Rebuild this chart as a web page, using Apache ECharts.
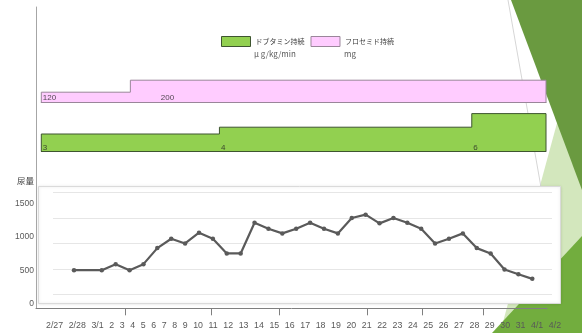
<!DOCTYPE html>
<html>
<head>
<meta charset="utf-8">
<script src="https://cdn.jsdelivr.net/npm/echarts@6/dist/echarts.min.js"></script>
<style>
  html, body { margin: 0; padding: 0; background: #ffffff; }
  #chart { width: 582px; height: 333px; }
</style>
</head>
<body>
<div id="chart"></div>
<script>
// Calendar of the observation period
const dates = ['2/27', '2/28', '3/1', '3/2', '3/3', '3/4', '3/5', '3/6', '3/7', '3/8', '3/9', '3/10',
  '3/11', '3/12', '3/13', '3/14', '3/15', '3/16', '3/17', '3/18', '3/19', '3/20', '3/21', '3/22',
  '3/23', '3/24', '3/25', '3/26', '3/27', '3/28', '3/29', '3/30', '3/31', '4/1', '4/2'];

// Date row printed under the chart
const dayLabels = ['2/27', '2/28', '3/1', '2', '3', '4', '5', '6', '7', '8', '9', '10', '11', '12',
  '13', '14', '15', '16', '17', '18', '19', '20', '21', '22', '23', '24', '25', '26', '27', '28',
  '29', '30', '31', '4/1', '4/2'];

// Daily urine volume (mL), 2/27 .. 4/1 (2/28 not recorded)
const urineDates = dates.slice(0, 34);
const urineVolume = [500, null, 500, 590, 500, 590, 830, 970, 900, 1060, 970, 750, 750, 1210,
  1120, 1050, 1120, 1210, 1120, 1050, 1280, 1330, 1200, 1280, 1210, 1120, 900, 970, 1050, 830,
  750, 510, 440, 370];
const urineTicks = [0, 500, 1000, 1500];

// Continuous infusions: [date the rate was set, rate]
const dobutamineSteps = [['2/27', 3], ['3/11', 4], ['3/28', 6], ['4/2', 6]];
const furosemideSteps = [['2/27', 120], ['3/5', 200], ['4/2', 200]];

const dobutamineName = 'ドブタミン持続';
const dobutamineUnit = 'μ g/kg/min';
const furosemideName = 'フロセミド持続';
const furosemideUnit = 'mg';

const CJK = '"Noto Sans CJK JP", "Noto Sans", sans-serif';
const LAT = '"Liberation Sans", Arial, sans-serif';

const PINK = '#FFCCFF', PINK_EDGE = '#9A869A';
const GREEN = '#92D050', GREEN_EDGE = '#3E5530';
const FURO_MIN = 50, DOBU_MIN = 0.5;

// Close a step profile down to the band baseline so the outline runs round the whole band
function closedSteps(steps, base) {
  return [[steps[0][0], base]].concat(steps, [[steps[steps.length - 1][0], base]]);
}
// One label per rate change, sitting on the baseline
function rateLabels(steps, base) {
  return steps.slice(0, -1).map(s => ({ value: [s[0], base], dose: s[1] }));
}

const hiddenCat = (grid, data) => ({
  type: 'category', gridIndex: grid, data: data, boundaryGap: false,
  axisLine: { show: false }, axisTick: { show: false }, axisLabel: { show: false },
  splitLine: { show: false }
});
const hiddenVal = (grid, min, max) => ({
  type: 'value', gridIndex: grid, min: min, max: max,
  axisLine: { show: false }, axisTick: { show: false }, axisLabel: { show: false },
  splitLine: { show: false }
});

const furoLabels = rateLabels(furosemideSteps, FURO_MIN);
furoLabels[1].label = { offset: [29, 0] };

const option = {
  animation: false,
  backgroundColor: '#ffffff',
  graphic: [
    // slide decoration on the right edge
    { type: 'polygon', z: -30, shape: { points: [[560, 112], [582, 168], [582, 333], [500, 333]] },
      style: { fill: '#D3E7BD' } },
    { type: 'polygon', z: -29, shape: { points: [[582, 236], [582, 333], [492, 333]] },
      style: { fill: '#72AD3E' } },
    { type: 'polygon', z: -28, shape: { points: [[511, 0], [582, 0], [582, 190]] },
      style: { fill: '#6A9A40' } },
    { type: 'line', z: -27, shape: { x1: 508, y1: 0, x2: 545, y2: 210 },
      style: { stroke: '#D6D6D6', lineWidth: 1 } },
    // panel behind the urine plot
    { type: 'rect', z: -10, shape: { x: 38.5, y: 186.5, width: 522, height: 117 },
      style: { fill: '#ffffff', stroke: '#DADADA', lineWidth: 1,
        shadowBlur: 3, shadowColor: 'rgba(0,0,0,0.12)' } },
    // units under the legend entries
    { type: 'text', z: 5, style: { text: dobutamineUnit, x: 254, y: 54, font: '8px ' + CJK,
        fill: '#595959', verticalAlign: 'middle' } },
    { type: 'text', z: 5, style: { text: furosemideUnit, x: 344, y: 54, font: '8px ' + CJK,
        fill: '#595959', verticalAlign: 'middle' } },
    // date row
    { type: 'text', z: 5, style: {
        text: dayLabels.map(d => '{d|' + d + '}').join('{g| }'),
        x: 46, y: 326, verticalAlign: 'middle',
        rich: { d: { font: '8.8px ' + LAT, fill: '#595959' },
                g: { width: 5.6, font: '8.8px ' + LAT } } } }
  ],
  legend: {
    left: 216, top: 31, itemWidth: 29, itemHeight: 10, itemGap: 6, selectedMode: false,
    textStyle: { fontFamily: CJK, fontSize: 7, color: '#404040' },
    data: [
      { name: dobutamineName, icon: 'rect', itemStyle: { color: GREEN, borderColor: GREEN_EDGE, borderWidth: 1 } },
      { name: furosemideName, icon: 'rect', itemStyle: { color: PINK, borderColor: PINK_EDGE, borderWidth: 1 } }
    ]
  },
  grid: [
    { left: 36, right: 35, top: 7, bottom: 24.7 },          // outer frame
    { left: 41.3, right: 36, top: 65.2, bottom: 230.3 },     // furosemide band
    { left: 41.3, right: 36, top: 100, bottom: 182 },        // dobutamine band
    { left: 53, right: 30, top: 192.3, bottom: 38.7 },       // urine panel gridlines
    { left: 74, right: 49.7, top: 203.3, bottom: 29.4 }      // urine line
  ],
  xAxis: [
    { type: 'value', gridIndex: 0, min: 0, max: 511,
      axisLine: { show: true, lineStyle: { color: '#7F7F7F', width: 1 } },
      axisTick: { show: true, length: 7, customValues: [89, 175, 243, 331, 386, 447],
        lineStyle: { color: '#7F7F7F', width: 1 } },
      axisLabel: { show: false }, splitLine: { show: false } },
    Object.assign(hiddenCat(1, dates), { z: 5,
      axisLine: { show: true, lineStyle: { color: PINK_EDGE, width: 1 } } }),
    Object.assign(hiddenCat(2, dates), { z: 5,
      axisLine: { show: true, lineStyle: { color: GREEN_EDGE, width: 1 } } }),
    { type: 'value', gridIndex: 3, min: 0, max: 1, show: false },
    hiddenCat(4, urineDates)
  ],
  yAxis: [
    { type: 'value', gridIndex: 0, min: 0, max: 1,
      axisLine: { show: true, lineStyle: { color: '#A6A6A6', width: 1 } },
      axisTick: { show: false }, axisLabel: { show: false }, splitLine: { show: false } },
    hiddenVal(1, FURO_MIN, 300),
    hiddenVal(2, DOBU_MIN, 8),
    { type: 'value', gridIndex: 3, min: 0, max: 2000, interval: 500,
      axisLine: { show: false }, axisTick: { show: false }, axisLabel: { show: false },
      splitLine: { show: true, lineStyle: { color: '#E6E6E6', width: 1 } } },
    { type: 'value', gridIndex: 4, min: urineTicks[0], max: urineTicks[urineTicks.length - 1],
      interval: urineTicks[1] - urineTicks[0], offset: 38,
      name: '尿量', nameLocation: 'end', nameGap: 18,
      nameTextStyle: { fontFamily: CJK, fontSize: 8.5, color: '#404040', align: 'right', padding: [0, 2, 0, 0] },
      axisLine: { show: false }, axisTick: { show: false }, splitLine: { show: false },
      axisLabel: { margin: 2, fontFamily: LAT, fontSize: 8.5, color: '#595959',
        formatter: v => String(v) } }
  ],
  series: [
    { name: furosemideName, type: 'line', step: 'end', xAxisIndex: 1, yAxisIndex: 1,
      data: closedSteps(furosemideSteps, FURO_MIN), symbol: 'none',
      itemStyle: { color: PINK }, lineStyle: { color: PINK_EDGE, width: 1 },
      areaStyle: { color: PINK, opacity: 1, origin: 'start' } },
    { name: dobutamineName, type: 'line', step: 'end', xAxisIndex: 2, yAxisIndex: 2,
      data: closedSteps(dobutamineSteps, DOBU_MIN), symbol: 'none',
      itemStyle: { color: GREEN }, lineStyle: { color: GREEN_EDGE, width: 1 },
      areaStyle: { color: GREEN, opacity: 1, origin: 'start' } },
    { type: 'scatter', xAxisIndex: 1, yAxisIndex: 1, symbolSize: 0, z: 6, silent: true,
      data: furoLabels,
      label: { show: true, position: [1.5, -0.5], align: 'left', verticalAlign: 'bottom',
        fontFamily: LAT, fontSize: 8, color: '#262626',
        formatter: p => String(p.data.dose) } },
    { type: 'scatter', xAxisIndex: 2, yAxisIndex: 2, symbolSize: 0, z: 6, silent: true,
      data: rateLabels(dobutamineSteps, DOBU_MIN),
      label: { show: true, position: [1.5, 0.5], align: 'left', verticalAlign: 'bottom',
        fontFamily: LAT, fontSize: 8, color: '#262626',
        formatter: p => String(p.data.dose) } },
    { name: '尿量', type: 'line', xAxisIndex: 4, yAxisIndex: 4, data: urineVolume,
      connectNulls: true, symbol: 'circle', symbolSize: 4.5, z: 4,
      itemStyle: { color: '#5A5A5A' }, lineStyle: { color: '#5A5A5A', width: 2.2 } }
  ]
};

const chart = echarts.init(document.getElementById('chart'));
chart.setOption(option);
</script>
</body>
</html>
